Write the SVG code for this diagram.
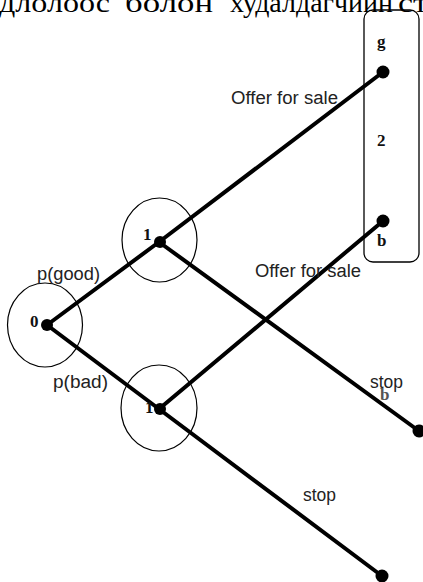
<svg xmlns="http://www.w3.org/2000/svg" width="423" height="582" viewBox="0 0 423 582">
<style>
.edge{stroke:#000;stroke-width:4;stroke-linecap:round;fill:none}
.ring{fill:none;stroke:#000;stroke-width:1.2}
.dot{fill:#000}
.lab{font-family:"Liberation Sans",Arial,sans-serif;font-size:18px;fill:#222}
.num{font-family:"Liberation Serif","Times New Roman",serif;font-size:17px;font-weight:bold;fill:#111}
.top{font-family:"Liberation Serif","Times New Roman",serif;font-size:27px;fill:#000}
</style>
<rect width="423" height="582" fill="#fff"/>
<text class="top" y="12"><tspan x="-1" textLength="111" lengthAdjust="spacingAndGlyphs">длолоос</tspan><tspan x="125" textLength="88" lengthAdjust="spacingAndGlyphs">болон</tspan><tspan x="230" textLength="163" lengthAdjust="spacingAndGlyphs">худалдагчийн</tspan><tspan x="398" textLength="30" lengthAdjust="spacingAndGlyphs">ст</tspan></text>

<g id="info-set-2">
<rect x="364" y="10" width="55" height="252" rx="9" ry="9" fill="none" stroke="#000" stroke-width="1.3"/>
<text class="num" x="377" y="47">g</text>
<text class="num" x="377" y="146">2</text>
<text class="num" x="377" y="246">b</text>
</g>

<g id="connectors">
<line class="edge" x1="47" y1="325" x2="159" y2="242"/>
<line class="edge" x1="159" y1="242" x2="383" y2="72"/>
<line class="edge" x1="47" y1="325" x2="159" y2="409"/>
<line class="edge" x1="159" y1="242" x2="419" y2="431"/>
<line class="edge" x1="159" y1="409" x2="383" y2="221"/>
<line class="edge" x1="159" y1="409" x2="382" y2="576"/>
</g>

<g id="node-0">
<ellipse class="ring" cx="45" cy="325" rx="37.5" ry="42"/>
<circle class="dot" cx="47" cy="325" r="6"/>
<text class="num" x="30" y="327">0</text>
</g>
<g id="node-1-good">
<ellipse class="ring" cx="159.5" cy="240" rx="37.5" ry="42"/>
<circle class="dot" cx="160" cy="242" r="6"/>
<text class="num" x="143" y="240">1</text>
</g>
<g id="node-1-bad">
<ellipse class="ring" cx="159" cy="408" rx="38" ry="43"/>
<circle class="dot" cx="160" cy="409" r="6"/>
<text class="num" x="145" y="413">1</text>
</g>

<g id="end-g"><circle class="dot" cx="383" cy="72" r="6.5"/></g>
<g id="end-b"><circle class="dot" cx="383" cy="221" r="6.5"/></g>
<g id="end-stop-good"><circle class="dot" cx="419" cy="431" r="6.5"/></g>
<g id="end-stop-bad"><circle class="dot" cx="382" cy="576" r="6.5"/></g>

<g id="labels">
<text class="lab" x="231" y="104" textLength="107" lengthAdjust="spacingAndGlyphs">Offer for sale</text>
<text class="lab" x="255" y="277" textLength="106" lengthAdjust="spacingAndGlyphs">Offer for sale</text>
<text class="lab" x="37" y="280" textLength="63" lengthAdjust="spacingAndGlyphs">p(good)</text>
<text class="lab" x="53" y="388" textLength="55" lengthAdjust="spacingAndGlyphs">p(bad)</text>
<text class="lab" x="370" y="388" textLength="33" lengthAdjust="spacingAndGlyphs">stop</text>
<text class="num" x="380" y="400" fill="#555" style="fill:#555">b</text>
<text class="lab" x="303" y="501" textLength="33" lengthAdjust="spacingAndGlyphs">stop</text>
</g>
</svg>
